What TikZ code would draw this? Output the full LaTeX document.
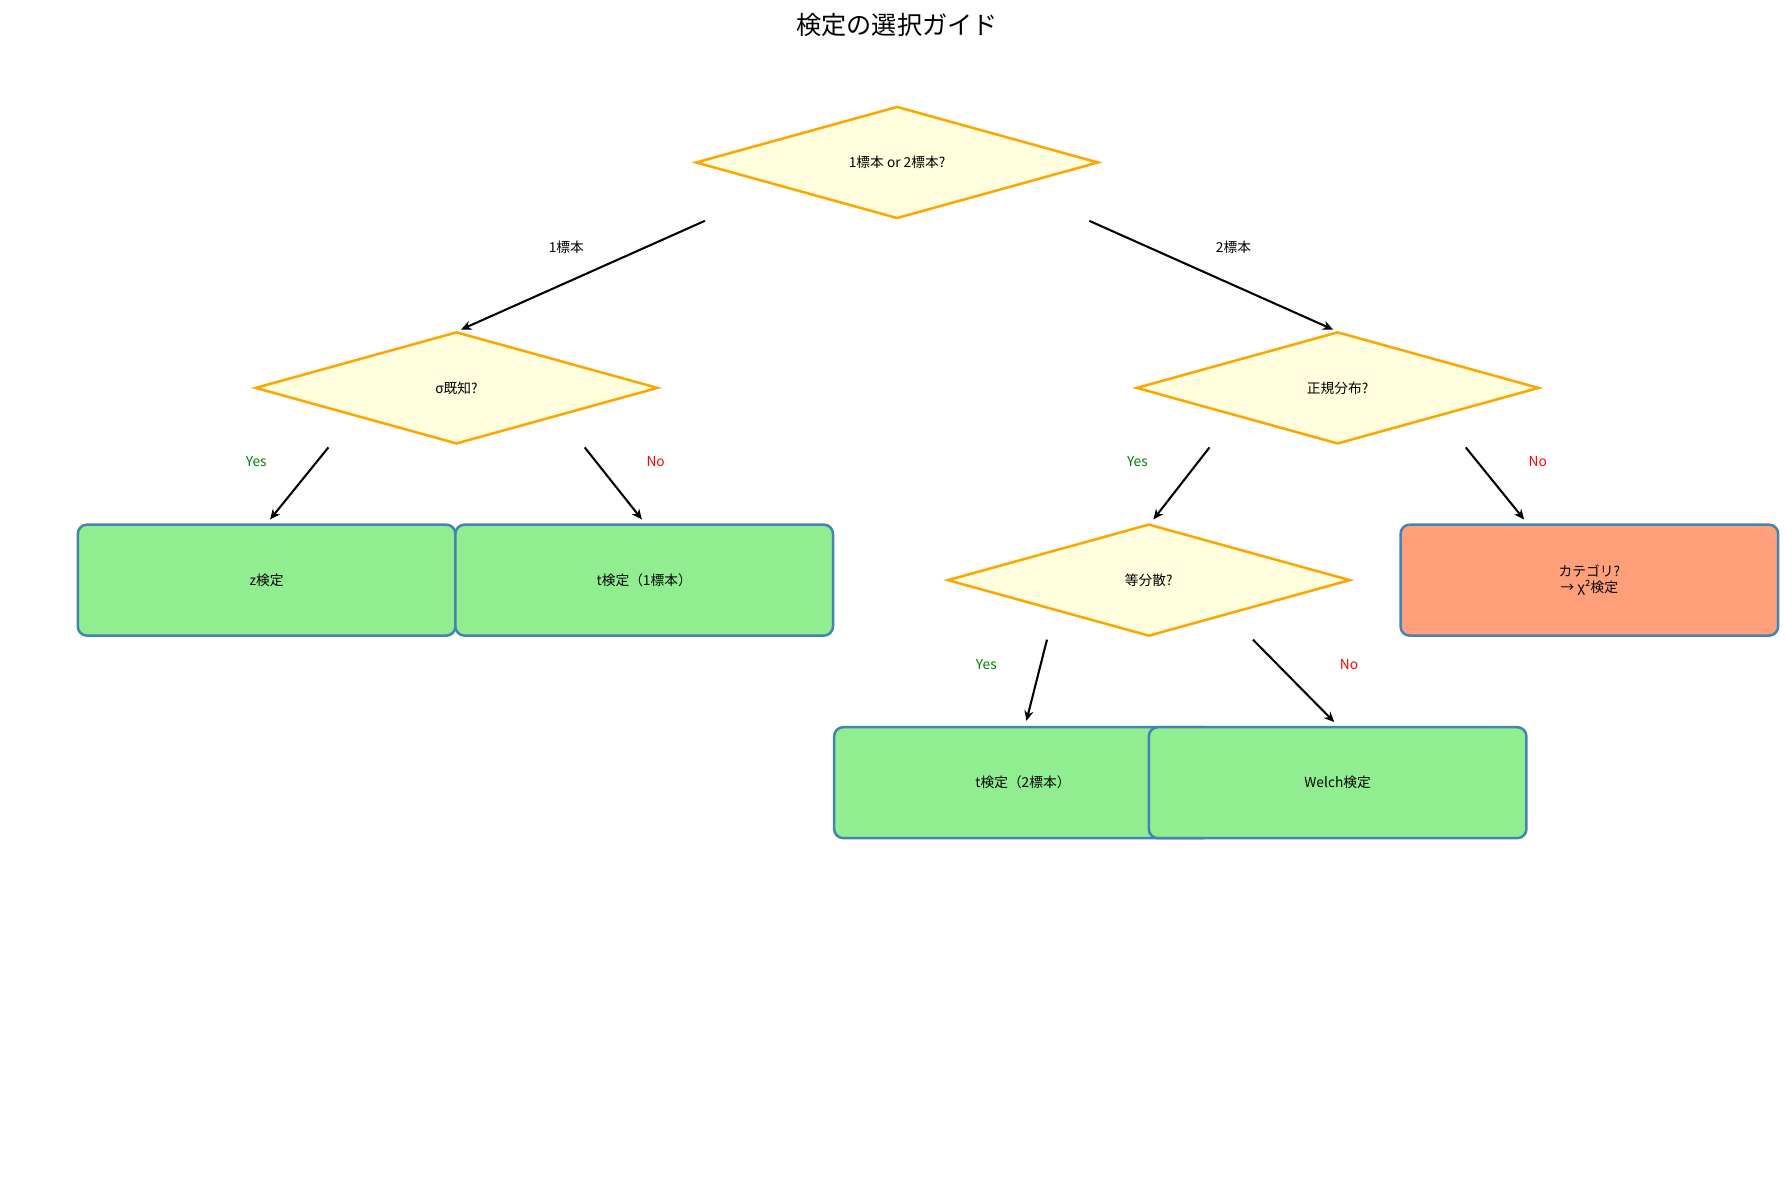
\documentclass[tikz,border=0pt]{standalone}
\usepackage{fontspec}
\setmainfont{Noto Sans CJK JP}
\usetikzlibrary{shapes.geometric,arrows.meta}
\definecolor{decfill}{RGB}{255,255,224}
\definecolor{decline}{RGB}{255,165,0}
\definecolor{boxgreen}{RGB}{144,238,144}
\definecolor{boxsalmon}{RGB}{255,160,122}
\definecolor{boxline}{RGB}{70,130,180}
\definecolor{yesgreen}{RGB}{0,128,0}
\tikzstyle{mydec}=[diamond,aspect=3.59,draw=decline,fill=decfill,line width=2.2pt,minimum width=352pt,minimum height=98pt,inner sep=0pt]
\tikzstyle{mybox}=[rectangle,rounded corners=8pt,draw=boxline,fill=boxgreen,line width=2.2pt,minimum width=330pt,minimum height=97pt,align=center]
\tikzstyle{myarrow}=[line width=1.8pt,-{Stealth[length=9pt,width=8pt,inset=3pt]}]
\tikzstyle{myyes}=[text=yesgreen]
\tikzstyle{myno}=[text=red]
\begin{document}
\begin{tikzpicture}[x=1pt,y=-1pt,font=\fontsize{12}{14}\selectfont]
		\useasboundingbox (0,0) rectangle (1560,1037);
		\node[font=\fontsize{22}{26}\selectfont] (title) at (784,22) {検定の選択ガイド};

		\node[mydec] (top) at (784,142) {1標本 or 2標本?};
		\node[mydec] (sigma) at (399,339) {σ既知?};
		\node[mydec] (norm) at (1169,339) {正規分布?};
		\node[mydec] (eqvar) at (1004,507) {等分散?};

		\node[mybox] (ztest) at (233,507) {z検定};
		\node[mybox] (tone) at (563,507) {t検定（1標本）};
		\node[mybox,fill=boxsalmon] (cat) at (1389,507) {カテゴリ?\\→ χ²検定};
		\node[mybox] (ttwo) at (894,684) {t検定（2標本）};
		\node[mybox] (welch) at (1169,684) {Welch検定};

		% arrow ends
		\foreach \n / \x / \y in {a1/616/193,a2/403/288,b1/952/193,b2/1165/288,c1/287/391,c2/236/454,d1/511/391,d2/561/454,e1/1057/391,e2/1008/454,f1/1281/391,f2/1332/454,g1/915/559,g2/897/630,h1/1095/559,h2/1166/631} {\coordinate (\n) at (\x,\y);}
		\foreach \s / \e in {a1/a2,b1/b2,c1/c2,d1/d2,e1/e2,f1/f2,g1/g2,h1/h2} {\draw[myarrow] (\s) -- (\e);}

		\node (l1) at (495,216) {1標本};
		\node (l2) at (1078,216) {2標本};
		\node[myyes] (y1) at (224,403) {Yes};
		\node[myno] (n1) at (573,403) {No};
		\node[myyes] (y2) at (994,403) {Yes};
		\node[myno] (n2) at (1344,403) {No};
		\node[myyes] (y3) at (862,581) {Yes};
		\node[myno] (n3) at (1179,581) {No};
	\end{tikzpicture}
\end{document}
